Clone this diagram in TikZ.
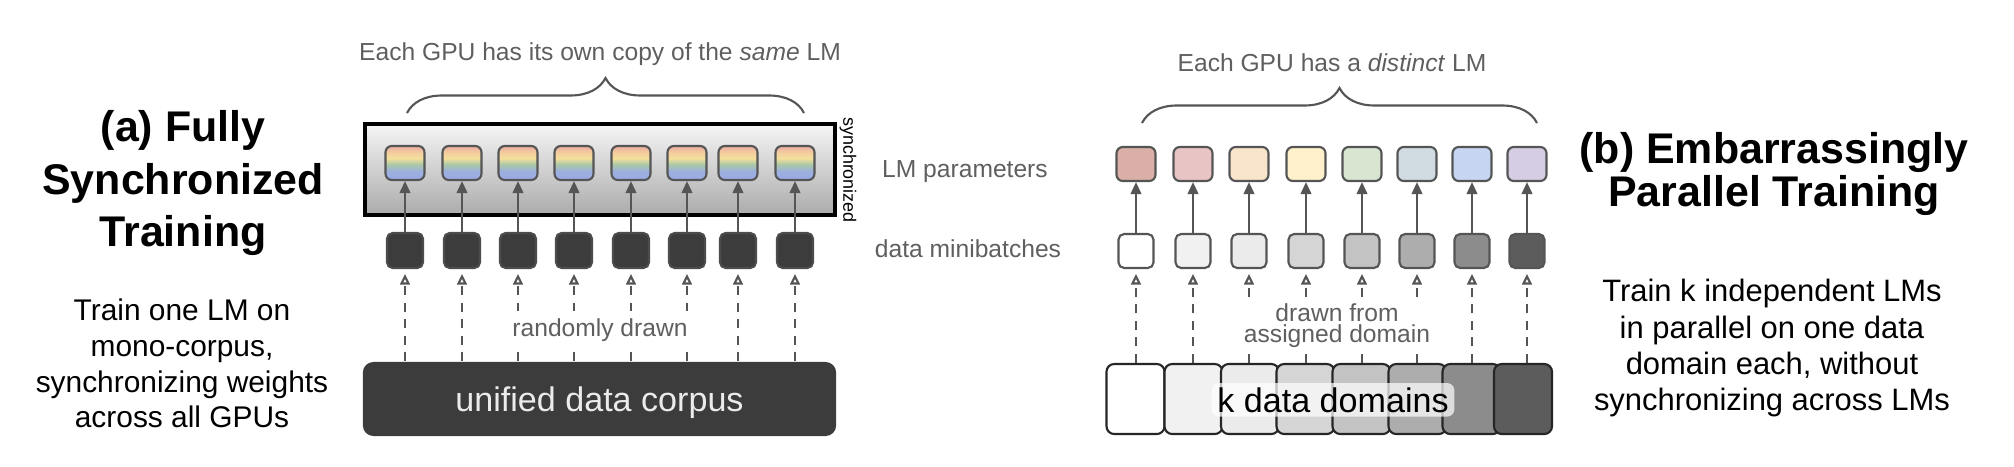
\documentclass[tikz,border=0pt]{standalone}
\usepackage{fontspec}
\setmainfont{Liberation Sans}
\usetikzlibrary{arrows.meta,decorations.pathreplacing}

\definecolor{txtgray}{HTML}{5F5F5F}
\definecolor{linegray}{HTML}{555555}
\definecolor{darkbox}{HTML}{3C3C3C}
\definecolor{syncTop}{HTML}{F5F5F5}
\definecolor{syncBot}{HTML}{ABABAB}
\definecolor{rbred}{HTML}{E8ABA2}
\definecolor{rborange}{HTML}{F3CC9E}
\definecolor{rbyellow}{HTML}{F5E09C}
\definecolor{rbgreen}{HTML}{ABC8A6}
\definecolor{rbblue}{HTML}{9CB0DE}
\definecolor{rbblue2}{HTML}{9AA8E8}
% one colour per distinct LM
\definecolor{lmA}{HTML}{D9AFA7}
\definecolor{lmB}{HTML}{E9C4C4}
\definecolor{lmC}{HTML}{F8E3CB}
\definecolor{lmD}{HTML}{FEF0CB}
\definecolor{lmE}{HTML}{D8E6D1}
\definecolor{lmF}{HTML}{D0DCE1}
\definecolor{lmG}{HTML}{C6D5F1}
\definecolor{lmH}{HTML}{D5CDE3}
% domain grays
\definecolor{gA}{HTML}{FFFFFF}
\definecolor{gB}{HTML}{F1F1F1}
\definecolor{gC}{HTML}{EBEBEB}
\definecolor{gD}{HTML}{D5D5D5}
\definecolor{gE}{HTML}{C3C3C3}
\definecolor{gF}{HTML}{ADADAD}
\definecolor{gG}{HTML}{8C8C8C}
\definecolor{gH}{HTML}{5C5C5C}

\pgfdeclareverticalshading{lmrainbow}{100bp}{color(0bp)=(rbblue2); color(25bp)=(rbblue2); color(38bp)=(rbblue); color(48bp)=(rbgreen); color(57bp)=(rbyellow); color(66bp)=(rborange); color(75bp)=(rbred); color(100bp)=(rbred)}

\begin{document}
\begin{tikzpicture}[x=0.01cm, y=-0.01cm,
    lmbox/.style={draw=linegray, line width=0.6pt, rounded corners=1.8pt, minimum width=0.39cm, minimum height=0.34cm, inner sep=0pt},
    batch/.style={draw=linegray, line width=0.6pt, rounded corners=1.6pt, minimum width=0.36cm, minimum height=0.35cm, inner sep=0pt},
    domainbox/.style={draw=black!85, line width=0.6pt, rounded corners=2.2pt, minimum width=0.58cm, minimum height=0.70cm, inner sep=0pt},
    feed/.style={draw=linegray, line width=0.6pt, -{Triangle[length=3.4pt,width=3pt]}},
    sample/.style={draw=linegray, line width=0.6pt, dash pattern=on 2.6pt off 2.1pt, -{Triangle[open,length=3pt,width=2.8pt]}, shorten >=1.4pt},
    brace/.style={draw=linegray, line width=0.6pt, decorate, decoration={brace, amplitude=0.35cm}},
    gtext/.style={text=txtgray, font=\fontsize{7}{8}\selectfont, inner sep=0pt},
    title/.style={align=center, inner sep=0pt},
  ]
  \useasboundingbox (0,0) rectangle (2014,466);

  % (a) fully synchronized
  \node[title, font=\fontsize{12.2}{14.8}\selectfont\bfseries] (titleA) at (183,183) {(a) Fully\\Synchronized\\Training};
  \node[title, font=\fontsize{8.5}{10.15}\selectfont] (descA) at (182,363.5) {Train one LM on\\mono-corpus,\\synchronizing weights\\across all GPUs};

  \node[draw=black, line width=1pt, top color=syncTop, bottom color=syncBot, minimum width=4.70cm, minimum height=0.91cm] (syncbox) at (600,169.5) {};
  \node[rotate=-90, inner sep=0pt, font=\fontsize{5.1}{6}\selectfont] (synclbl) at (848,170) {synchronized};

  \node[lmbox, shading=lmrainbow] (pa1) at (405,163) {};
  \node[lmbox, shading=lmrainbow] (pa2) at (462,163) {};
  \node[lmbox, shading=lmrainbow] (pa3) at (518,163) {};
  \node[lmbox, shading=lmrainbow] (pa4) at (574,163) {};
  \node[lmbox, shading=lmrainbow] (pa5) at (631,163) {};
  \node[lmbox, shading=lmrainbow] (pa6) at (687,163) {};
  \node[lmbox, shading=lmrainbow] (pa7) at (738,163) {};
  \node[lmbox, shading=lmrainbow] (pa8) at (795,163) {};

  \node[batch, fill=darkbox, draw=black!70] (ma1) at (405,250.5) {};
  \node[batch, fill=darkbox, draw=black!70] (ma2) at (462,250.5) {};
  \node[batch, fill=darkbox, draw=black!70] (ma3) at (518,250.5) {};
  \node[batch, fill=darkbox, draw=black!70] (ma4) at (574,250.5) {};
  \node[batch, fill=darkbox, draw=black!70] (ma5) at (631,250.5) {};
  \node[batch, fill=darkbox, draw=black!70] (ma6) at (687,250.5) {};
  \node[batch, fill=darkbox, draw=black!70] (ma7) at (738,250.5) {};
  \node[batch, fill=darkbox, draw=black!70] (ma8) at (795,250.5) {};

  \node[fill=darkbox, rounded corners=3pt, minimum width=4.73cm, minimum height=0.74cm, text depth=0pt, text=black!8, font=\fontsize{9.7}{11}\selectfont] (corpus) at (599.5,399) {unified data corpus};

  \draw[feed] (ma1) -- (pa1);
  \draw[feed] (ma2) -- (pa2);
  \draw[feed] (ma3) -- (pa3);
  \draw[feed] (ma4) -- (pa4);
  \draw[feed] (ma5) -- (pa5);
  \draw[feed] (ma6) -- (pa6);
  \draw[feed] (ma7) -- (pa7);
  \draw[feed] (ma8) -- (pa8);

  \draw[sample] (corpus.north -| ma1) -- (ma1);
  \draw[sample] (corpus.north -| ma2) -- (ma2);
  \draw[sample] (corpus.north -| ma3) -- (ma3);
  \draw[sample] (corpus.north -| ma4) -- (ma4);
  \draw[sample] (corpus.north -| ma5) -- (ma5);
  \draw[sample] (corpus.north -| ma6) -- (ma6);
  \draw[sample] (corpus.north -| ma7) -- (ma7);
  \draw[sample] (corpus.north -| ma8) -- (ma8);

  \draw[brace] (407,113) -- (804,113);
  \node[gtext, anchor=base] (sameLM) at (600,60) {Each GPU has its own copy of the \textit{same} LM};
  \node[gtext, anchor=base, fill=white, inner sep=2pt] (lblrandom) at (600,336) {randomly drawn};

  % row labels in the middle
  \node[gtext, anchor=base] (lblparams) at (965,177) {LM parameters};
  \node[gtext, anchor=base] (lblbatches) at (968,257) {data minibatches};

  % (b) embarrassingly parallel
  \node[lmbox, fill=lmA] (pb1) at (1136,164) {};
  \node[lmbox, fill=lmB] (pb2) at (1193,164) {};
  \node[lmbox, fill=lmC] (pb3) at (1249,164) {};
  \node[lmbox, fill=lmD] (pb4) at (1306,164) {};
  \node[lmbox, fill=lmE] (pb5) at (1362,164) {};
  \node[lmbox, fill=lmF] (pb6) at (1417,164) {};
  \node[lmbox, fill=lmG] (pb7) at (1472,164) {};
  \node[lmbox, fill=lmH] (pb8) at (1527,164) {};

  \node[batch, fill=gA, minimum width=0.35cm, minimum height=0.34cm] (mb1) at (1136,251) {};
  \node[batch, fill=gB, minimum width=0.35cm, minimum height=0.34cm] (mb2) at (1193,251) {};
  \node[batch, fill=gC, minimum width=0.35cm, minimum height=0.34cm] (mb3) at (1249,251) {};
  \node[batch, fill=gD, minimum width=0.35cm, minimum height=0.34cm] (mb4) at (1306,251) {};
  \node[batch, fill=gE, minimum width=0.35cm, minimum height=0.34cm] (mb5) at (1362,251) {};
  \node[batch, fill=gF, minimum width=0.35cm, minimum height=0.34cm] (mb6) at (1417,251) {};
  \node[batch, fill=gG, minimum width=0.35cm, minimum height=0.34cm] (mb7) at (1472,251) {};
  \node[batch, fill=gH, minimum width=0.35cm, minimum height=0.34cm] (mb8) at (1527,251) {};

  \node[domainbox, fill=gA] (db1) at (1135.5,399) {};
  \node[domainbox, fill=gB] (db2) at (1193.5,399) {};
  \node[domainbox, fill=gC] (db3) at (1250,399) {};
  \node[domainbox, fill=gD] (db4) at (1305.5,399) {};
  \node[domainbox, fill=gE] (db5) at (1361.5,399) {};
  \node[domainbox, fill=gF] (db6) at (1417.5,399) {};
  \node[domainbox, fill=gG] (db7) at (1471.5,399) {};
  \node[domainbox, fill=gH] (db8) at (1523,399) {};

  \draw[feed] (mb1) -- (pb1);
  \draw[feed] (mb2) -- (pb2);
  \draw[feed] (mb3) -- (pb3);
  \draw[feed] (mb4) -- (pb4);
  \draw[feed] (mb5) -- (pb5);
  \draw[feed] (mb6) -- (pb6);
  \draw[feed] (mb7) -- (pb7);
  \draw[feed] (mb8) -- (pb8);

  \draw[sample] (db1.north -| mb1) -- (mb1);
  \draw[sample] (db2.north -| mb2) -- (mb2);
  \draw[sample] (db3.north -| mb3) -- (mb3);
  \draw[sample] (db4.north -| mb4) -- (mb4);
  \draw[sample] (db5.north -| mb5) -- (mb5);
  \draw[sample] (db6.north -| mb6) -- (mb6);
  \draw[sample] (db7.north -| mb7) -- (mb7);
  \draw[sample] (db8.north -| mb8) -- (mb8);

  \node[anchor=base, fill=white, fill opacity=0.7, text opacity=1, rounded corners=2pt, inner xsep=1.6pt, inner ysep=1.2pt, font=\fontsize{9.7}{11}\selectfont] (lbldomains) at (1333,412) {k data domains};
  \node[gtext, align=center, fill=white, inner sep=1pt, font=\fontsize{7}{6}\selectfont] (lbldrawn) at (1337,326) {drawn from\\assigned domain};

  \draw[brace] (1142,123) -- (1537,123);
  \node[gtext, anchor=base] (distinctLM) at (1332,71) {Each GPU has a \textit{distinct} LM};

  \node[title, font=\fontsize{12.2}{12.2}\selectfont\bfseries] (titleB) at (1774,174) {(b) Embarrassingly\\Parallel Training};
  \node[title, font=\fontsize{8.8}{10.24}\selectfont] (descB) at (1772,348) {Train k independent LMs\\in parallel on one data\\domain each, without\\synchronizing across LMs};
\end{tikzpicture}
\end{document}
